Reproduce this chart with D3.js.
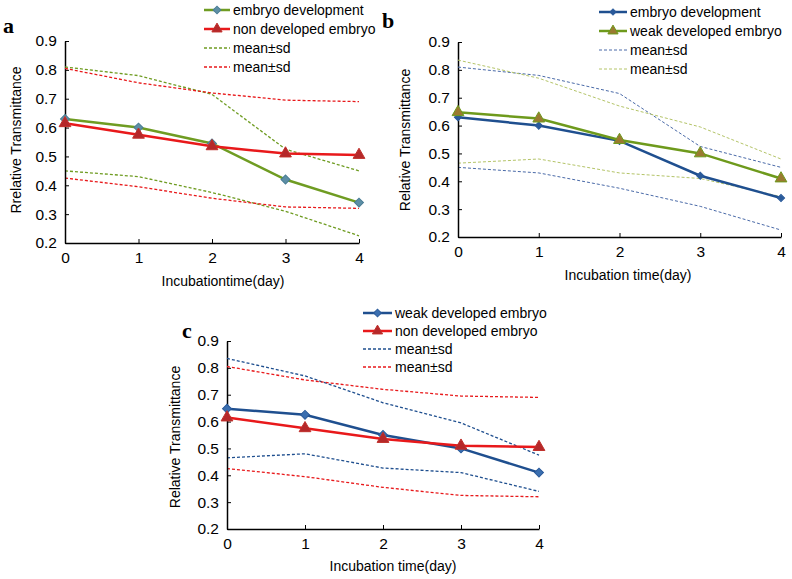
<!DOCTYPE html>
<html><head><meta charset="utf-8">
<script src="https://cdn.jsdelivr.net/npm/d3@7"></script>
<style>body{margin:0;background:#fff}svg{display:block}</style>
</head><body>
<svg id="c" width="792" height="579"></svg>
<script>
const days = [0, 1, 2, 3, 4];
const yTicks = [0.2, 0.3, 0.4, 0.5, 0.6, 0.7, 0.8, 0.9];

// Panel a
const aEmbryo = [0.63, 0.60, 0.545, 0.42, 0.34];
const aNon = [0.615, 0.575, 0.535, 0.51, 0.505];
const aEmbryoUp = [0.81, 0.78, 0.715, 0.525, 0.45];
const aEmbryoLo = [0.45, 0.43, 0.375, 0.31, 0.225];
const aNonUp = [0.805, 0.755, 0.72, 0.695, 0.69];
const aNonLo = [0.425, 0.395, 0.355, 0.325, 0.32];

// Panel b
const bEmbryo = [0.63, 0.60, 0.545, 0.42, 0.34];
const bWeak = [0.648, 0.625, 0.548, 0.50, 0.41];
const bEmbryoUp = [0.81, 0.78, 0.715, 0.525, 0.45];
const bEmbryoLo = [0.45, 0.43, 0.375, 0.31, 0.225];
const bWeakUp = [0.835, 0.77, 0.67, 0.595, 0.48];
const bWeakLo = [0.465, 0.48, 0.43, 0.41, 0.345];

// Panel c
const cWeak = [0.648, 0.625, 0.55, 0.50, 0.41];
const cNon = [0.615, 0.575, 0.535, 0.51, 0.505];
const cWeakUp = [0.835, 0.77, 0.67, 0.595, 0.475];
const cWeakLo = [0.465, 0.48, 0.427, 0.41, 0.34];
const cNonUp = [0.805, 0.755, 0.72, 0.695, 0.69];
const cNonLo = [0.425, 0.395, 0.355, 0.325, 0.32];

const svg = d3.select("#c");
const FONT = "'Liberation Sans', Arial, sans-serif";

function marker(sel, s) {
  if (s.shape === "diamond") {
    sel.attr("d", d3.symbol().type(d3.symbolSquare).size(s.size)())
      .attr("transform", function() { return d3.select(this).attr("transform") + " rotate(45)"; });
  } else {
    sel.attr("d", d3.symbol().type(d3.symbolTriangle).size(s.size)());
  }
  sel.attr("fill", s.mfill).attr("stroke", s.mstroke).attr("stroke-width", 1);
}

function panel(cfg) {
  const g = svg.append("g");
  const x = d3.scaleLinear().domain([0, 4]).range([cfg.x0, cfg.x1]);
  const y = d3.scaleLinear().domain([0.2, 0.9]).range([cfg.y0, cfg.y1]);
  const line = d3.line().x((d, i) => x(days[i])).y(d => y(d));
  // lower sd lines (drawn first)
  cfg.lower.forEach(s => {
    g.append("path").datum(s.data).attr("d", line).attr("fill", "none")
      .attr("stroke", s.color).attr("stroke-width", s.w).attr("stroke-dasharray", s.dash);
  });
  // axes
  const ya = g.append("g").attr("transform", `translate(${cfg.x0},0)`)
    .call(d3.axisLeft(y).tickValues(yTicks).tickSizeInner(-4).tickSizeOuter(0).tickPadding(8).tickFormat(d3.format(".1f")));
  const xa = g.append("g").attr("transform", `translate(0,${cfg.y0})`)
    .call(d3.axisBottom(x).tickValues(days).tickSizeInner(-4).tickSizeOuter(0).tickPadding(9).tickFormat(d3.format("d")));
  [ya, xa].forEach(a => {
    a.select(".domain").attr("stroke", "#000").attr("stroke-width", 1.5);
    a.selectAll(".tick line").attr("stroke", "#000");
    a.selectAll("text").attr("font-family", FONT).attr("font-size", 15.5).attr("fill", "#000");
  });
  xa.selectAll(".tick").filter(d => d === 0).select("line").remove();
  // titles
  g.append("text").attr("x", cfg.xtx).attr("y", cfg.xty).attr("text-anchor", "middle")
    .attr("font-family", FONT).attr("font-size", 14).text(cfg.xtitle);
  g.append("text").attr("transform", `translate(${cfg.ytx},${cfg.yty}) rotate(-90)`).attr("text-anchor", "middle")
    .attr("font-family", FONT).attr("font-size", 14).text(cfg.ytitle);
  g.append("text").attr("x", cfg.lx).attr("y", cfg.ly).attr("font-family", "'Liberation Serif', 'Times New Roman', serif")
    .attr("font-weight", "bold").attr("font-size", 22).text(cfg.label);

  cfg.dashed.forEach(s => {
    g.append("path").datum(s.data).attr("d", line).attr("fill", "none")
      .attr("stroke", s.color).attr("stroke-width", s.w).attr("stroke-dasharray", s.dash);
  });
  cfg.series.forEach(s => {
    g.append("path").datum(s.data).attr("d", line).attr("fill", "none")
      .attr("stroke", s.color).attr("stroke-width", 2.5);
    g.selectAll(null).data(s.data).enter().append("path")
      .attr("transform", (d, i) => `translate(${x(days[i])},${y(d)})`)
      .call(marker, s);
  });
  // legend
  const items = cfg.series.map(s => ({...s, kind: "main"})).concat(cfg.dashed.map(s => ({...s, kind: "dash"})));
  items.forEach((s, i) => {
    const yy = cfg.legY + i * cfg.legDy;
    const lg = g.append("g");
    if (s.kind === "main") {
      lg.append("line").attr("x1", cfg.legX).attr("x2", cfg.legX + cfg.legW).attr("y1", yy).attr("y2", yy)
        .attr("stroke", s.color).attr("stroke-width", 2.5);
      lg.append("path").attr("transform", `translate(${cfg.legX + cfg.legW / 2},${yy})`)
        .call(marker, {...s, size: s.size * 0.75});
    } else {
      lg.append("line").attr("x1", cfg.legX).attr("x2", cfg.legX + cfg.legW).attr("y1", yy).attr("y2", yy)
        .attr("stroke", s.color).attr("stroke-width", s.w).attr("stroke-dasharray", s.dash);
    }
    lg.append("text").attr("x", cfg.legX + cfg.legW + 3).attr("y", yy + 5)
      .attr("font-family", FONT).attr("font-size", 14).text(s.name);
  });
}

const GREEN = "#6f9c22", RED = "#e8191b", BLUE = "#1f4f8f";

panel({
  x0: 65, x1: 359, y0: 243, y1: 41,
  xtitle: "Incubationtime(day)", xtx: 223, xty: 286,
  ytitle: "Rrelative Transmittance", ytx: 21, yty: 140,
  label: "a", lx: 3, ly: 33,
  legX: 204, legW: 26, legY: 10, legDy: 19,
  series: [
    {name: "embryo development", data: aEmbryo, color: GREEN, shape: "diamond", size: 40, mfill: "#5d8fa6", mstroke: "#4a7d95"},
    {name: "non developed embryo", data: aNon, color: RED, shape: "triangle", size: 60, mfill: "#b5282a", mstroke: "#c0302b"}
  ],
  dashed: [
    {name: "mean±sd", data: aEmbryoUp, color: GREEN, w: 1.3, dash: "3,2"},
    {name: "mean±sd", data: aNonUp, color: RED, w: 1.3, dash: "3,2"}
  ],
  lower: [
    {data: aEmbryoLo, color: GREEN, w: 1.3, dash: "3,2"},
    {data: aNonLo, color: RED, w: 1.3, dash: "3,2"}
  ]
});

panel({
  x0: 458, x1: 781, y0: 237, y1: 42,
  xtitle: "Incubation time(day)", xtx: 628, xty: 280,
  ytitle: "Relative  Transmittance", ytx: 410, yty: 140,
  label: "b", lx: 382, ly: 28,
  legX: 599, legW: 28, legY: 12, legDy: 19,
  series: [
    {name: "embryo development", data: bEmbryo, color: BLUE, shape: "diamond", size: 26, mfill: "#2a5a9a", mstroke: "#2a5a9a"},
    {name: "weak developed embryo", data: bWeak, color: "#6e9a1c", shape: "triangle", size: 60, mfill: "#9a7a30", mstroke: "#6e9a1c"}
  ],
  dashed: [
    {name: "mean±sd", data: bEmbryoUp, color: "#4a6aa8", w: 1, dash: "3,2"},
    {name: "mean±sd", data: bWeakUp, color: "#b4c468", w: 1, dash: "3,2"}
  ],
  lower: [
    {data: bEmbryoLo, color: "#4a6aa8", w: 1, dash: "3,2"},
    {data: bWeakLo, color: "#b4c468", w: 1, dash: "3,2"}
  ]
});

panel({
  x0: 227, x1: 539, y0: 529, y1: 341,
  xtitle: "Incubation time(day)", xtx: 393, xty: 571,
  ytitle: "Relative  Transmittance", ytx: 180, yty: 437,
  label: "c", lx: 182, ly: 338,
  legX: 363, legW: 29, legY: 313, legDy: 18,
  series: [
    {name: "weak developed embryo", data: cWeak, color: BLUE, shape: "diamond", size: 40, mfill: "#3b6fb0", mstroke: "#2a5a9a"},
    {name: "non developed embryo", data: cNon, color: RED, shape: "triangle", size: 60, mfill: "#b5282a", mstroke: "#c0302b"}
  ],
  dashed: [
    {name: "mean±sd", data: cWeakUp, color: BLUE, w: 1.3, dash: "3,2"},
    {name: "mean±sd", data: cNonUp, color: RED, w: 1.3, dash: "3,2"}
  ],
  lower: [
    {data: cWeakLo, color: BLUE, w: 1.3, dash: "3,2"},
    {data: cNonLo, color: RED, w: 1.3, dash: "3,2"}
  ]
});
</script>
</body></html>
